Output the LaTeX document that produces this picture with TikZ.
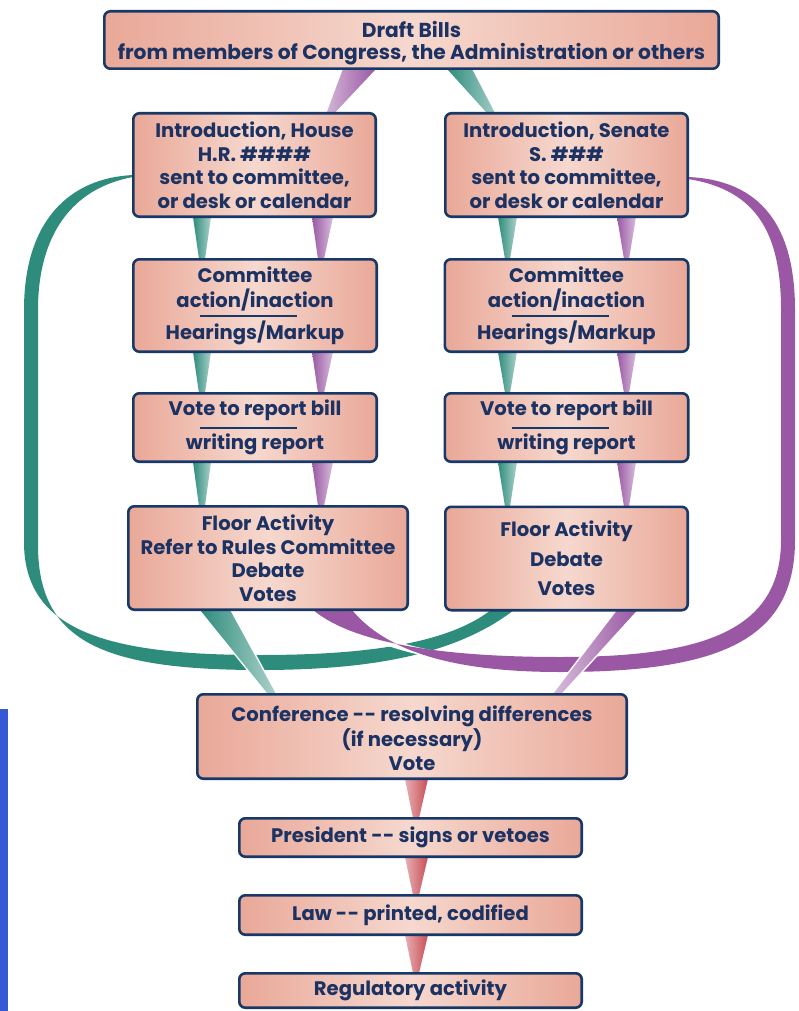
\documentclass[tikz,border=0pt]{standalone}
\usepackage{fontspec}
\setmainfont{Poppins}
\usetikzlibrary{calc}
\definecolor{navy}{RGB}{24,56,104}
\definecolor{txtc}{RGB}{28,50,98}
\definecolor{boxa}{RGB}{233,168,152}
\definecolor{boxb}{RGB}{246,216,206}
\definecolor{tealc}{RGB}{46,140,124}
\definecolor{purpc}{RGB}{154,88,164}
\definecolor{redc}{RGB}{200,78,86}
\definecolor{barc}{RGB}{52,88,214}
\newcommand\conn[6]{%
  \filldraw[white, line width=3pt] #3 -- #4 -- #5 -- #6 -- cycle;
  \shade[left color=#1, right color=#2] #3 -- #4 -- #5 -- #6 -- cycle;}
\tikzset{
  box/.style={draw=navy, line width=2.6pt, rounded corners=6pt,
    left color=boxa, right color=boxa, middle color=boxb,
    text=txtc, font=\bfseries\fontsize{19.6}{23.5}\selectfont,
    align=center, inner sep=0pt},
  boxtext/.style={text=txtc, font=\bfseries\fontsize{19.6}{23.5}\selectfont,
    align=center, inner sep=0pt},
  rulel/.style={navy, line width=2pt}
}
\begin{document}
\begin{tikzpicture}[x=1pt,y=-1pt]
\useasboundingbox (0,0) rectangle (799,1011);
% blue bar
\fill[barc] (0,709) rectangle (8,1011);
% box frames (named, empty; drawn with text later)
\begin{scope}[every node/.style={inner sep=0pt}]
\node[minimum width=614.4pt, minimum height=57.4pt] (draft) at (411.5,40) {};
\node[minimum width=242.4pt, minimum height=103.4pt] (ih) at (254.5,165) {};
\node[minimum width=242.4pt, minimum height=103.4pt] (is) at (566.5,165) {};
\node[minimum width=243.4pt, minimum height=92.4pt] (ch) at (255,305.5) {};
\node[minimum width=243.4pt, minimum height=92.4pt] (cs) at (566.5,305.5) {};
\node[minimum width=243.4pt, minimum height=68.4pt] (vh) at (255,427.5) {};
\node[minimum width=243.4pt, minimum height=68.4pt] (vs) at (566.5,427.5) {};
\node[minimum width=279.4pt, minimum height=103.4pt] (fh) at (268,558) {};
\node[minimum width=242.4pt, minimum height=103.4pt] (fs) at (566.5,558.5) {};
\node[minimum width=429.4pt, minimum height=84.4pt] (conf) at (412,736.5) {};
\node[minimum width=342.4pt, minimum height=38.4pt] (pres) at (410.5,837.5) {};
\node[minimum width=342.4pt, minimum height=39.4pt] (law) at (410.5,915) {};
\node[minimum width=342.4pt, minimum height=34.4pt] (reg) at (410.5,990.5) {};
\end{scope}
% teal loop: House introduction -> Senate floor
\fill[tealc] ($(ih.west)+(0,10)$) .. controls (70,178) and (24,220) .. (24,310)
  -- (24,545) .. controls (26,632) and (110,655) .. (260,655)
  .. controls (360,655) and (445,645) .. ($(fs.south)+(-76,0)$)
  -- ($(fs.south)+(-53,0)$) .. controls (455,655) and (370,670) .. (260,670)
  .. controls (100,670) and (38,640) .. (38,545) -- (38,310)
  .. controls (38,235) and (72,188) .. ($(ih.west)+(0,12)$) -- cycle;
% gap in teal where purple crosses
\begin{scope}
\clip (360,600) rectangle (470,700);
\draw[white, line width=7pt] ($(fh.south)+(64,0)$) .. controls (372,648) and (450,664) .. (560,664);
\end{scope}
% purple loop: Senate introduction -> House floor
\fill[purpc] ($(is.east)+(0,12)$) .. controls (760,180) and (795,225) .. (795,310)
  -- (795,540) .. controls (795,640) and (720,672) .. (560,672)
  .. controls (450,672) and (385,650) .. ($(fh.south)+(84,0)$)
  -- ($(fh.south)+(45,0)$) .. controls (355,645) and (450,657) .. (560,657)
  .. controls (705,657) and (781,630) .. (781,540) -- (781,310)
  .. controls (781,235) and (758,190) .. ($(is.east)+(0,14)$) -- cycle;
% tapered connectors
\conn{purpc!45!white}{purpc}{($(draft.south)+(-68.5,0)$)}{($(draft.south)+(-35.5,0)$)}{($(ih.north)+(80,0)$)}{($(ih.north)+(72,0)$)}
\conn{tealc}{tealc!45!white}{($(draft.south)+(35.5,0)$)}{($(draft.south)+(60.5,0)$)}{($(is.north)+(-71.5,0)$)}{($(is.north)+(-79.5,0)$)}
% House column
\conn{tealc}{tealc!40!white}{($(ih.south)+(-61.5,0)$)}{($(ih.south)+(-43.5,0)$)}{($(ch.north)+(-50,0)$)}{($(ch.north)+(-56,0)$)}
\conn{purpc}{purpc!40!white}{($(ih.south)+(57.5,0)$)}{($(ih.south)+(78.5,0)$)}{($(ch.north)+(69,0)$)}{($(ch.north)+(63,0)$)}
\conn{tealc}{tealc!40!white}{($(ch.south)+(-62,0)$)}{($(ch.south)+(-44,0)$)}{($(vh.north)+(-50,0)$)}{($(vh.north)+(-56,0)$)}
\conn{purpc}{purpc!40!white}{($(ch.south)+(57,0)$)}{($(ch.south)+(78,0)$)}{($(vh.north)+(69,0)$)}{($(vh.north)+(63,0)$)}
\conn{tealc}{tealc!40!white}{($(vh.south)+(-62,0)$)}{($(vh.south)+(-44,0)$)}{($(fh.north)+(-63,0)$)}{($(fh.north)+(-69,0)$)}
\conn{purpc}{purpc!40!white}{($(vh.south)+(57,0)$)}{($(vh.south)+(78,0)$)}{($(fh.north)+(56,0)$)}{($(fh.north)+(50,0)$)}
% Senate column
\conn{tealc}{tealc!40!white}{($(is.south)+(-68.5,0)$)}{($(is.south)+(-49.5,0)$)}{($(cs.north)+(-56.5,0)$)}{($(cs.north)+(-61.5,0)$)}
\conn{purpc}{purpc!40!white}{($(is.south)+(50.5,0)$)}{($(is.south)+(69.5,0)$)}{($(cs.north)+(62.5,0)$)}{($(cs.north)+(57.5,0)$)}
\conn{tealc}{tealc!40!white}{($(cs.south)+(-68.5,0)$)}{($(cs.south)+(-49.5,0)$)}{($(vs.north)+(-56.5,0)$)}{($(vs.north)+(-61.5,0)$)}
\conn{purpc}{purpc!40!white}{($(cs.south)+(50.5,0)$)}{($(cs.south)+(69.5,0)$)}{($(vs.north)+(62.5,0)$)}{($(vs.north)+(57.5,0)$)}
\conn{tealc}{tealc!40!white}{($(vs.south)+(-68.5,0)$)}{($(vs.south)+(-49.5,0)$)}{($(fs.north)+(-56.5,0)$)}{($(fs.north)+(-61.5,0)$)}
\conn{purpc}{purpc!40!white}{($(vs.south)+(50.5,0)$)}{($(vs.south)+(69.5,0)$)}{($(fs.north)+(62.5,0)$)}{($(fs.north)+(57.5,0)$)}
% floors to conference
\conn{tealc}{tealc!40!white}{($(fh.south)+(-68,0)$)}{($(fh.south)+(-38,0)$)}{($(conf.north)+(-136,0)$)}{($(conf.north)+(-144,0)$)}
\conn{purpc!40!white}{purpc}{($(fs.south)+(50.5,0)$)}{($(fs.south)+(70.5,0)$)}{($(conf.north)+(149,0)$)}{($(conf.north)+(141,0)$)}
% red connectors
\conn{redc!45!white}{redc}{($(conf.south)+(-7,0)$)}{($(conf.south)+(16,0)$)}{($(pres.north)+(8.5,0)$)}{($(pres.north)+(2.5,0)$)}
\conn{redc!45!white}{redc}{($(pres.south)+(-5.5,0)$)}{($(pres.south)+(17.5,0)$)}{($(law.north)+(8.5,0)$)}{($(law.north)+(2.5,0)$)}
\conn{redc!45!white}{redc}{($(law.south)+(-5.5,0)$)}{($(law.south)+(17.5,0)$)}{($(reg.north)+(8.5,0)$)}{($(reg.north)+(2.5,0)$)}
% boxes with text
\node[box, minimum width=614.4pt, minimum height=57.4pt] (draftbox) at (draft) {};
\node[boxtext, font=\bfseries\fontsize{20.2}{22}\selectfont] (drafttext) at ($(draft)+(0,3)$) {Draft Bills\\from members of Congress, the Administration or others};
\node[box, minimum width=242.4pt, minimum height=103.4pt] at (ih) {Introduction, House\\H.R. \#\#\#\#\\sent to committee,\\or desk or calendar};
\node[box, minimum width=242.4pt, minimum height=103.4pt] at (is) {Introduction, Senate\\S. \#\#\#\\sent to committee,\\or desk or calendar};
\node[box, minimum width=243.4pt, minimum height=92.4pt] at (ch) {Committee\\[1.5pt]action/inaction\\[8.5pt]Hearings/Markup};
\node[box, minimum width=243.4pt, minimum height=92.4pt] at (cs) {Committee\\[1.5pt]action/inaction\\[8.5pt]Hearings/Markup};
\node[box, minimum width=243.4pt, minimum height=68.4pt] at (vh) {Vote to report bill\\[10.5pt]writing report};
\node[box, minimum width=243.4pt, minimum height=68.4pt] at (vs) {Vote to report bill\\[10.5pt]writing report};
\node[box, minimum width=279.4pt, minimum height=103.4pt] at (fh) {Floor Activity\\Refer to Rules Committee\\Debate\\Votes};
\node[box, minimum width=242.4pt, minimum height=103.4pt] at (fs) {Floor Activity\\[6pt]Debate\\[6pt]Votes};
\node[box, minimum width=429.4pt, minimum height=84.4pt] (confbox) at (conf) {};
\node[boxtext] (conftext) at ($(conf)+(0,2)$) {Conference -\kern0.5pt- resolving differences\\[1pt](if necessary)\\[1pt]Vote};
\node[box, minimum width=342.4pt, minimum height=38.4pt] at (pres) {President -\kern0.5pt- signs or vetoes};
\node[box, minimum width=342.4pt, minimum height=39.4pt] at (law) {Law -\kern0.5pt- printed, codified};
\node[box, minimum width=342.4pt, minimum height=34.4pt] at (reg) {Regulatory activity};
% separator rules
\draw[rulel] ($(ch.center)+(-55,10.5)$) -- ($(ch.center)+(42,10.5)$);
\draw[rulel] ($(cs.center)+(-55,10.5)$) -- ($(cs.center)+(42,10.5)$);
\draw[rulel] ($(vh.center)+(-55,0.5)$) -- ($(vh.center)+(42,0.5)$);
\draw[rulel] ($(vs.center)+(-55,0.5)$) -- ($(vs.center)+(42,0.5)$);
\end{tikzpicture}
\end{document}
